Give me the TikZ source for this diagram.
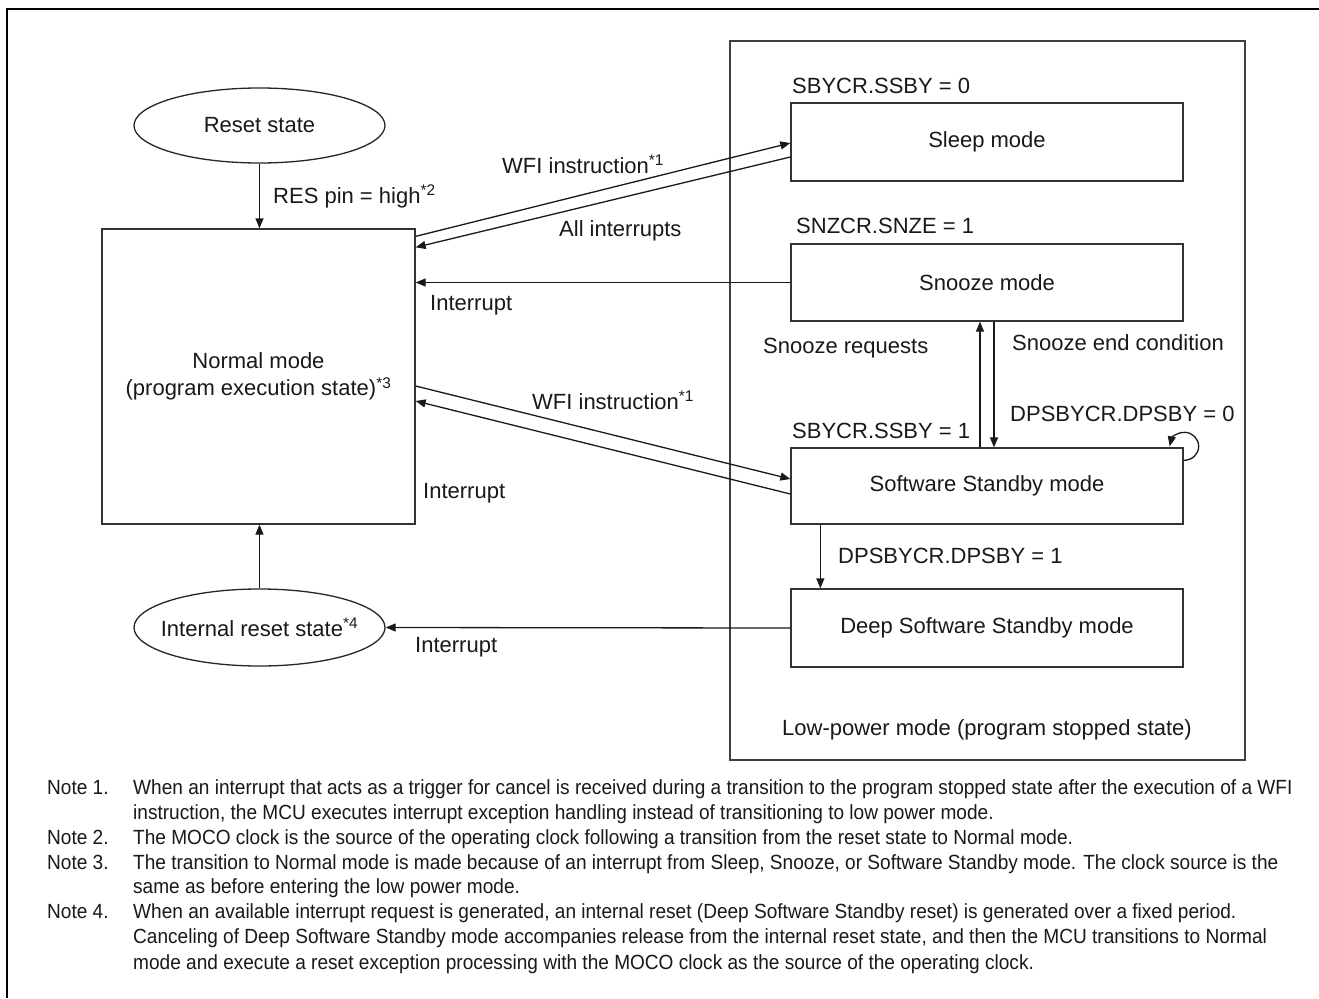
\documentclass[tikz,border=0pt]{standalone}
\usepackage{fontspec}
\setmainfont{Liberation Sans}
\newfontfamily\notefont[FakeStretch=0.93]{Liberation Sans}
\usetikzlibrary{shapes.geometric,arrows.meta,calc}
\begin{document}
\begin{tikzpicture}[x=1pt,y=-1pt,
  every node/.style={font=\fontsize{22}{27}\selectfont, text=black!90},
  modebox/.style={draw=black!80, line width=1.3pt, minimum width=392pt, minimum height=78pt, inner sep=0pt},
  statell/.style={draw=black!85, line width=1.3pt, ellipse, minimum width=251pt, minimum height=76pt, inner sep=0pt},
  conn/.style={draw=black!90, line width=1.3pt, -{Triangle[length=10pt,width=8pt]}},
  lbl/.style={anchor=base west, inner sep=0pt},
  notelbl/.style={anchor=base west, inner sep=0pt, font=\notefont\fontsize{20.5}{25}\selectfont},
  frameline/.style={draw=black, line width=2pt}
]
\useasboundingbox (0,0) rectangle (1319,998);
\fill[white] (0,0) rectangle (1319,998);
% outer frame (open at right and bottom)
\draw[frameline] (7,998) -- (7,9) -- (1319,9);
% low-power box
\node[draw=black!75, line width=1.3pt, minimum width=515pt, minimum height=719pt, inner sep=0pt] (lowpower) at (987.5,400.5) {};
\node[lbl] (lowlbl) at (782,735.5) {Low-power mode (program stopped state)};

% mode boxes
\node[modebox] (sleep) at (987,142) {Sleep mode};
\node[modebox, minimum height=77pt] (snooze) at (987,282.5) {Snooze mode};
\node[modebox, minimum height=76pt] (ssby) at (987,486) {Software Standby mode};
\node[modebox] (deep) at (987,628) {Deep Software Standby mode};

% normal mode box
\node[draw=black!80, line width=1.3pt, minimum width=313pt, minimum height=295pt, inner sep=0pt, align=center] (normal) at (258.5,376.5) {Normal mode\\(program execution state)\textsuperscript{*3}};

% ellipses
\node[statell, minimum height=75pt] (reset) at (259.5,125.5) {\makebox[0pt][c]{Reset state}};
\node[statell, minimum height=77pt] (intreset) at (259.5,627.5) {\makebox[0pt][c]{Internal reset state\textsuperscript{*4}}};

% register labels
\node[lbl] (l1) at (792,93.5) {SBYCR.SSBY = 0};
\node[lbl] (l2) at (796,233.5) {SNZCR.SNZE = 1};
\node[lbl] (l3) at (792,438.5) {SBYCR.SSBY = 1};
\node[lbl] (l4) at (838,563.5) {DPSBYCR.DPSBY = 1};
\node[lbl] (l5) at (1010,421.5) {DPSBYCR.DPSBY = 0};
\node[lbl] (l6) at (763,353.5) {Snooze requests};
\node[lbl] (l7) at (1012,350.5) {Snooze end condition};

% transition labels
\node[lbl] (t1) at (273,203.5) {RES pin = high\textsuperscript{*2}};
\node[lbl] (t2) at (502,173.5) {WFI instruction\textsuperscript{*1}};
\node[lbl] (t3) at (559,236.5) {All interrupts};
\node[lbl] (t4) at (430,310.5) {Interrupt};
\node[lbl] (t5) at (532,409.5) {WFI instruction\textsuperscript{*1}};
\node[lbl] (t6) at (423,498.5) {Interrupt};
\node[lbl] (t7) at (415,652.5) {Interrupt};

% connectors
\draw[conn] (reset.south) -- (reset.south |- normal.north);
\draw[conn] (intreset.north) -- (intreset.north |- normal.south);
\draw[conn] ([yshift=-8]normal.north east) -- ([yshift=-1]sleep.west);
\draw[conn] ([yshift=-15]sleep.west) -- ([yshift=-19]normal.north east);
\draw[conn] (snooze.west) -- (normal.east |- snooze.west);
\draw[conn] ([yshift=-9.5]normal.east) -- ([yshift=7]ssby.west);
\draw[conn] ([yshift=-8]ssby.west) -- ([yshift=-24.5]normal.east);
\draw[conn] ([xshift=-7]ssby.north) -- ([xshift=-7]snooze.south);
\draw[conn] ([xshift=7]snooze.south) -- ([xshift=7]ssby.north);
\draw[conn] ([xshift=30]ssby.south west) -- ([xshift=30]deep.north west);
\draw[conn] (deep.west) -- (intreset.east);
% self loop
\draw[conn] ($(ssby.north east)+(0,13)$)
  .. controls ($(ssby.north east)+(8.7,13)$) and ($(ssby.north east)+(15,6.7)$) .. ($(ssby.north east)+(15,-1)$)
  .. controls ($(ssby.north east)+(15,-8.7)$) and ($(ssby.north east)+(8.7,-15)$) .. ($(ssby.north east)+(1,-15)$)
  .. controls ($(ssby.north east)+(-6.7,-15)$) and ($(ssby.north east)+(-12,-10)$) .. ($(ssby.north east)+(-14,-1)$);

% notes
\node[notelbl] (n1) at (47,794.5) {Note 1.};
\node[notelbl] (n1a) at (133,794.5) {When an interrupt that acts as a trigger for cancel is received during a transition to the program stopped state after the execution of a WFI};
\node[notelbl] (n1b) at (133,819.5) {instruction, the MCU executes interrupt exception handling instead of transitioning to low power mode.};
\node[notelbl] (n2) at (47,844.5) {Note 2.};
\node[notelbl] (n2a) at (133,844.5) {The MOCO clock is the source of the operating clock following a transition from the reset state to Normal mode.};
\node[notelbl] (n3) at (47,869.5) {Note 3.};
\node[notelbl] (n3a) at (133,869.5) {The transition to Normal mode is made because of an interrupt from Sleep, Snooze, or Software Standby mode. The clock source is the};
\node[notelbl] (n3b) at (133,893.5) {same as before entering the low power mode.};
\node[notelbl] (n4) at (47,918.5) {Note 4.};
\node[notelbl] (n4a) at (133,918.5) {When an available interrupt request is generated, an internal reset (Deep Software Standby reset) is generated over a fixed period.};
\node[notelbl] (n4b) at (133,943.5) {Canceling of Deep Software Standby mode accompanies release from the internal reset state, and then the MCU transitions to Normal};
\node[notelbl] (n4c) at (133,969.5) {mode and execute a reset exception processing with the MOCO clock as the source of the operating clock.};
\end{tikzpicture}
\end{document}
